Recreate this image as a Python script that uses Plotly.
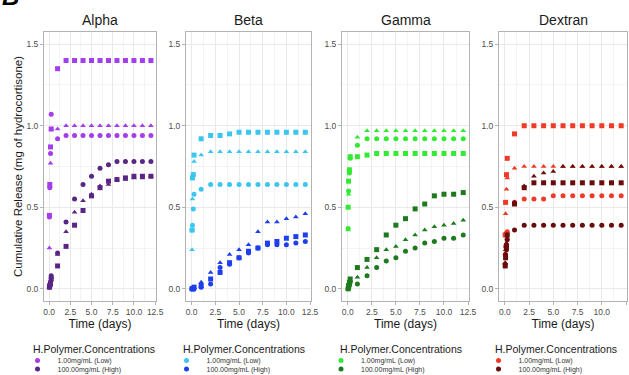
import plotly.graph_objects as go

W, H = 629, 375

# ---------------- data ----------------
TIME = [0.04, 0.08, 0.17, 0.25, 1, 2, 3, 4, 5, 6, 7, 8, 9, 10, 11, 12]
PANELS = ["Alpha", "Beta", "Gamma", "Dextran"]
CONC_LABELS = ["1.00mg/mL (Low)", "100.00mg/mL (High)"]
LEGEND_TITLE = "H.Polymer.Concentrations"
X_TICKS = [0, 2.5, 5, 7.5, 10, 12.5]
X_TICK_TEXT = ["0.0", "2.5", "5.0", "7.5", "10.0", "12.5"]
Y_TICKS = [0, 0.5, 1.0, 1.5]
Y_TICK_TEXT = ["0.0", "0.5", "1.0", "1.5"]

ALPHA_LOW_CIRCLE = [0.44, 0.62, 0.83, 1.07, 0.92, 0.94, 0.94, 0.94, 0.94, 0.94, 0.94, 0.94, 0.94, 0.94, 0.94, 0.94]
ALPHA_LOW_TRIANGLE = [0.25, 0.63, 0.77, 0.98, 0.98, 1.00, 1.00, 1.00, 1.00, 1.00, 1.00, 1.00, 1.00, 1.00, 1.00, 1.00]
ALPHA_LOW_SQUARE = [0.45, 0.64, 0.87, 0.98, 1.35, 1.40, 1.40, 1.40, 1.40, 1.40, 1.40, 1.40, 1.40, 1.40, 1.40, 1.40]
ALPHA_HIGH_CIRCLE = [0.01, 0.02, 0.04, 0.08, 0.22, 0.41, 0.55, 0.64, 0.69, 0.74, 0.76, 0.78, 0.78, 0.78, 0.78, 0.78]
ALPHA_HIGH_TRIANGLE = [0.01, 0.03, 0.05, 0.07, 0.21, 0.35, 0.47, 0.54, 0.58, 0.63, 0.64, 0.67, 0.67, 0.68, 0.68, 0.69]
ALPHA_HIGH_SQUARE = [0.01, 0.02, 0.03, 0.06, 0.14, 0.26, 0.39, 0.48, 0.57, 0.62, 0.66, 0.67, 0.68, 0.69, 0.69, 0.69]

BETA_LOW_CIRCLE = [0.36, 0.39, 0.49, 0.58, 0.61, 0.64, 0.64, 0.64, 0.64, 0.64, 0.64, 0.64, 0.64, 0.64, 0.64, 0.64]
BETA_LOW_TRIANGLE = [0.24, 0.55, 0.70, 0.78, 0.82, 0.84, 0.84, 0.84, 0.84, 0.84, 0.84, 0.84, 0.84, 0.84, 0.84, 0.84]
BETA_LOW_SQUARE = [0.36, 0.68, 0.70, 0.82, 0.92, 0.94, 0.94, 0.95, 0.96, 0.96, 0.96, 0.96, 0.96, 0.96, 0.96, 0.96]
BETA_HIGH_CIRCLE = [0.00, 0.00, 0.00, 0.00, 0.01, 0.03, 0.13, 0.15, 0.19, 0.22, 0.25, 0.27, 0.27, 0.27, 0.28, 0.29]
BETA_HIGH_TRIANGLE = [0.00, 0.00, 0.01, 0.01, 0.04, 0.10, 0.16, 0.21, 0.24, 0.27, 0.35, 0.41, 0.41, 0.43, 0.44, 0.46]
BETA_HIGH_SQUARE = [0.00, 0.00, 0.00, 0.01, 0.02, 0.06, 0.10, 0.16, 0.19, 0.23, 0.25, 0.28, 0.29, 0.31, 0.32, 0.33]

GAMMA_LOW_CIRCLE = [0.37, 0.60, 0.71, 0.80, 0.88, 0.92, 0.92, 0.92, 0.92, 0.92, 0.92, 0.92, 0.92, 0.92, 0.92, 0.92]
GAMMA_LOW_TRIANGLE = [0.36, 0.58, 0.72, 0.81, 0.93, 0.97, 0.97, 0.97, 0.97, 0.97, 0.97, 0.97, 0.97, 0.97, 0.97, 0.97]
GAMMA_LOW_SQUARE = [0.50, 0.66, 0.73, 0.81, 0.81, 0.82, 0.83, 0.83, 0.83, 0.83, 0.83, 0.83, 0.83, 0.83, 0.83, 0.83]
GAMMA_HIGH_CIRCLE = [0.00, 0.01, 0.02, 0.04, 0.03, 0.08, 0.13, 0.17, 0.19, 0.23, 0.25, 0.28, 0.29, 0.31, 0.31, 0.33]
GAMMA_HIGH_TRIANGLE = [0.00, 0.01, 0.03, 0.05, 0.07, 0.13, 0.19, 0.24, 0.26, 0.30, 0.33, 0.36, 0.38, 0.39, 0.40, 0.42]
GAMMA_HIGH_SQUARE = [0.00, 0.02, 0.04, 0.06, 0.13, 0.18, 0.24, 0.33, 0.39, 0.43, 0.49, 0.52, 0.57, 0.58, 0.58, 0.59]

DEXTRAN_LOW_CIRCLE = [0.21, 0.26, 0.33, 0.35, 0.53, 0.55, 0.55, 0.55, 0.57, 0.57, 0.57, 0.57, 0.57, 0.57, 0.57, 0.57]
DEXTRAN_LOW_TRIANGLE = [0.34, 0.46, 0.61, 0.68, 0.74, 0.75, 0.75, 0.75, 0.75, 0.75, 0.75, 0.75, 0.75, 0.75, 0.75, 0.75]
DEXTRAN_LOW_SQUARE = [0.33, 0.53, 0.70, 0.80, 0.95, 1.00, 1.00, 1.00, 1.00, 1.00, 1.00, 1.00, 1.00, 1.00, 1.00, 1.00]
DEXTRAN_HIGH_CIRCLE = [0.15, 0.21, 0.24, 0.30, 0.36, 0.39, 0.39, 0.39, 0.39, 0.39, 0.39, 0.39, 0.39, 0.39, 0.39, 0.39]
DEXTRAN_HIGH_TRIANGLE = [0.16, 0.24, 0.28, 0.31, 0.53, 0.63, 0.69, 0.71, 0.72, 0.75, 0.75, 0.75, 0.75, 0.75, 0.75, 0.75]
DEXTRAN_HIGH_SQUARE = [0.14, 0.19, 0.26, 0.33, 0.52, 0.62, 0.65, 0.65, 0.65, 0.65, 0.65, 0.65, 0.65, 0.65, 0.65, 0.65]

SERIES = {
    "Alpha": [[ALPHA_LOW_CIRCLE, ALPHA_LOW_TRIANGLE, ALPHA_LOW_SQUARE],
              [ALPHA_HIGH_CIRCLE, ALPHA_HIGH_TRIANGLE, ALPHA_HIGH_SQUARE]],
    "Beta": [[BETA_LOW_CIRCLE, BETA_LOW_TRIANGLE, BETA_LOW_SQUARE],
             [BETA_HIGH_CIRCLE, BETA_HIGH_TRIANGLE, BETA_HIGH_SQUARE]],
    "Gamma": [[GAMMA_LOW_CIRCLE, GAMMA_LOW_TRIANGLE, GAMMA_LOW_SQUARE],
              [GAMMA_HIGH_CIRCLE, GAMMA_HIGH_TRIANGLE, GAMMA_HIGH_SQUARE]],
    "Dextran": [[DEXTRAN_LOW_CIRCLE, DEXTRAN_LOW_TRIANGLE, DEXTRAN_LOW_SQUARE],
                [DEXTRAN_HIGH_CIRCLE, DEXTRAN_HIGH_TRIANGLE, DEXTRAN_HIGH_SQUARE]],
}

# ---------------- style ----------------
COLORS = {
    "Alpha": ["#A43DEE", "#5A2685"],
    "Beta": ["#3BC6F2", "#1F3FEE"],
    "Gamma": ["#33EA33", "#1D7A1D"],
    "Dextran": ["#EE3A26", "#6A0C0C"],
}
SYMBOLS = ["circle", "triangle-up", "square"]
FONT = "Liberation Sans, Arial, sans-serif"

# panel plot-area pixel boxes (left, right)
PANEL_X = [(44, 156), (186, 311), (342, 469), (499, 627)]
PANEL_TOP, PANEL_BOTTOM = 32, 301
LEGEND_TITLE_X = [33, 183, 340, 495]
LEGEND_KEY_X = [47, 196, 350.5, 508]   # midpoint between key symbol and label start


def fx(p):
    return p / W


def fy(p):
    return 1 - p / H


fig = go.Figure()
layout = dict(
    width=W, height=H,
    margin=dict(l=0, r=0, t=0, b=0, autoexpand=False),
    paper_bgcolor="white", plot_bgcolor="white",
    font=dict(family=FONT, color="#1A1A1A"),
    annotations=[], showlegend=True,
)

for i, panel in enumerate(PANELS):
    n = i + 1
    xa = "x" if n == 1 else f"x{n}"
    ya = "y" if n == 1 else f"y{n}"
    for c in range(2):
        leg = "legend" if (2 * i + c) == 0 else f"legend{2 * i + c + 1}"
        for s, sym in enumerate(SYMBOLS):
            fig.add_trace(go.Scatter(
                x=TIME, y=SERIES[panel][c][s], mode="markers",
                xaxis=xa, yaxis=ya,
                marker=dict(symbol=sym, size=5, color=COLORS[panel][c]),
                name=CONC_LABELS[c], legend=leg,
                showlegend=(s == 0),
                hoverinfo="x+y",
            ))
        layout[leg] = dict(
            x=fx(LEGEND_KEY_X[i] - 29.5), y=fy(346 if c == 0 else 354.5),
            xanchor="left", yanchor="top",
            bgcolor="rgba(0,0,0,0)", borderwidth=0,
            font=dict(size=7, color="#333333", family=FONT),
            itemclick=False, itemdoubleclick=False,
        )

    # legend title (shared by the two legend entries of this panel)
    layout["annotations"].append(dict(
        text=LEGEND_TITLE, xref="paper", yref="paper",
        x=fx(LEGEND_TITLE_X[i] - 2), y=fy(349), xanchor="left", yanchor="middle",
        showarrow=False, font=dict(size=10.5, color="#1A1A1A", family=FONT),
    ))

    l, r = PANEL_X[i]
    axis_common = dict(
        showline=True, mirror=True, linecolor="#B3B3B3", linewidth=1,
        ticks="outside", ticklen=3, tickcolor="#B3B3B3", tickwidth=1,
        tickfont=dict(size=8.5, color="#4D4D4D", family=FONT),
        showgrid=True, gridcolor="#E9E9E9", gridwidth=1, zeroline=False,
        automargin=False,
    )
    layout["xaxis" if n == 1 else f"xaxis{n}"] = dict(
        axis_common, domain=[fx(l), fx(r)], anchor=ya,
        range=[-0.6, 12.6], tickvals=X_TICKS, ticktext=X_TICK_TEXT,
        minor=dict(dtick=1.25, tick0=0, showgrid=True, gridcolor="#F4F4F4", gridwidth=1),
        title=dict(text="Time (days)", font=dict(size=12, color="#1A1A1A", family=FONT), standoff=3),
    )
    ydict = dict(
        axis_common, domain=[fy(PANEL_BOTTOM), fy(PANEL_TOP)], anchor=xa,
        range=[-0.075, 1.575], tickvals=Y_TICKS, ticktext=Y_TICK_TEXT,
        minor=dict(dtick=0.25, tick0=0, showgrid=True, gridcolor="#F4F4F4", gridwidth=1),
    )
    if n == 1:
        ydict["title"] = dict(text="Cumulative Release (mg of hydrocortisone)",
                              font=dict(size=11.5, color="#1A1A1A", family=FONT), standoff=1)
    layout["yaxis" if n == 1 else f"yaxis{n}"] = ydict

    layout["annotations"].append(dict(
        text=panel, xref="paper", yref="paper",
        x=fx((l + r) / 2), y=fy(20), xanchor="center", yanchor="middle",
        showarrow=False, font=dict(size=14, color="#1A1A1A", family=FONT),
    ))

# partially visible figure label at the top-left corner
layout["annotations"].append(dict(
    text="<b><i>B</i></b>", xref="paper", yref="paper", x=0, y=fy(12),
    xanchor="left", yanchor="bottom", showarrow=False,
    font=dict(size=24, color="#000000", family=FONT),
))

fig.update_layout(**layout)
fig.write_html("out.html", config={"displayModeBar": False},
               post_script="document.body.style.margin='0px';")
